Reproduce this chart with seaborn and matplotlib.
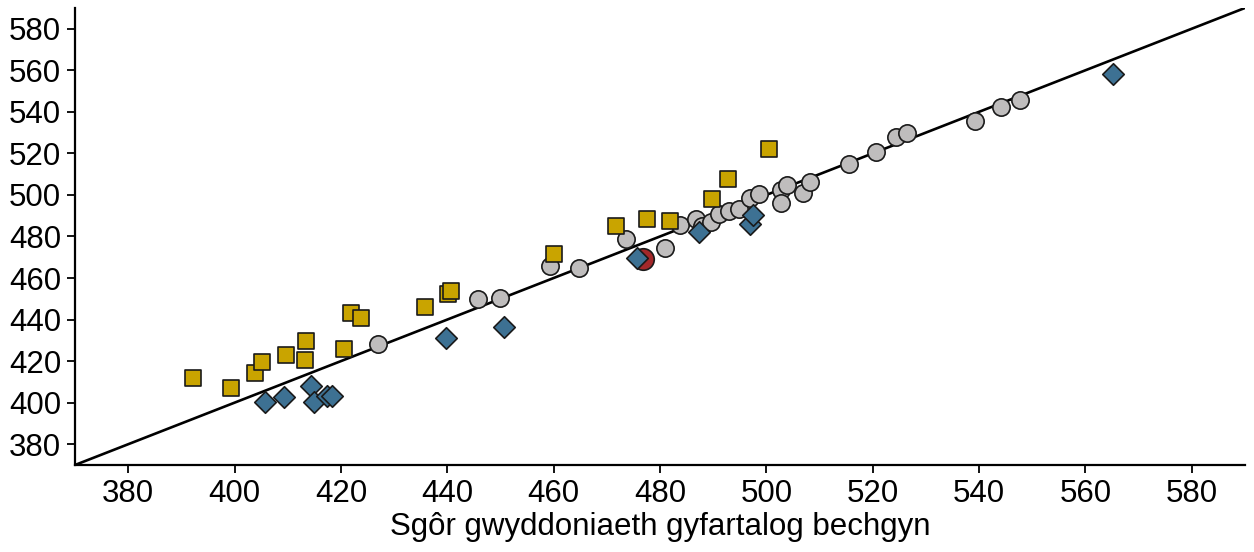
import matplotlib
matplotlib.use("Agg")
import matplotlib.pyplot as plt
import seaborn as sns
import pandas as pd

# boys' average (x) vs girls' average (y)
grey_x = [427.0, 445.8, 450.0, 459.3, 464.7, 473.6, 481.0, 483.7, 486.7, 487.9,
          489.6, 491.1, 493.0, 494.8, 497.0, 498.6, 502.8, 503.9, 502.8, 506.8,
          508.3, 515.5, 520.6, 524.3, 526.4, 539.2, 544.2, 547.7]
grey_y = [428.2, 449.7, 450.5, 465.9, 465.0, 478.6, 474.4, 485.5, 488.4, 484.9,
          487.2, 491.0, 492.4, 493.3, 498.6, 500.5, 502.6, 505.0, 496.0, 501.0,
          506.0, 514.9, 520.5, 527.8, 529.8, 535.8, 542.2, 545.8]

yellow_x = [392.1, 399.4, 403.9, 405.1, 409.7, 413.3, 413.5, 420.6, 421.9, 423.8,
            435.9, 440.2, 440.7, 460.1, 471.8, 477.6, 481.8, 489.7, 492.8, 500.5]
yellow_y = [411.8, 406.9, 414.2, 419.6, 422.9, 420.6, 429.5, 425.8, 443.1, 440.7,
            446.0, 452.1, 453.8, 471.6, 485.1, 488.4, 487.5, 498.0, 507.8, 522.2]

blue_x = [405.7, 409.3, 414.4, 415.0, 417.3, 418.4, 439.8, 450.6, 475.6, 487.4,
          497.0, 497.5, 565.1]
blue_y = [400.2, 402.8, 407.9, 400.2, 403.1, 403.2, 431.1, 436.3, 469.6, 482.1,
          485.8, 490.4, 558.3]

red_x = [476.9]
red_y = [469.2]

x_ticks = list(range(380, 581, 20))
y_ticks = list(range(380, 581, 20))
lims = (370, 590)

sns.set_style("ticks")
plt.rcParams["font.family"] = ["Liberation Sans", "DejaVu Sans"]

fig = plt.figure(figsize=(12.54, 5.52), dpi=100)
ax = fig.add_axes([0.0598, 0.1576, 0.933, 0.828])

ax.axline((lims[0], lims[0]), slope=1, color="black", lw=1.9, zorder=1)

edge = "#1a1a1a"
sns.scatterplot(x=grey_x, y=grey_y, ax=ax, marker="o", s=155, color="#bfbdbd",
                edgecolor=edge, linewidth=1.2, zorder=2)
sns.scatterplot(x=yellow_x, y=yellow_y, ax=ax, marker="s", s=130, color="#c9a400",
                edgecolor=edge, linewidth=1.2, zorder=3)
sns.scatterplot(x=red_x, y=red_y, ax=ax, marker="o", s=240, color="#a3282a",
                edgecolor=edge, linewidth=1.2, zorder=4)
sns.scatterplot(x=blue_x, y=blue_y, ax=ax, marker="D", s=120, color="#3d7193",
                edgecolor=edge, linewidth=1.2, zorder=5)

ax.set_xlim(*lims)
ax.set_ylim(*lims)
ax.set_xticks(x_ticks)
ax.set_yticks(y_ticks)
ax.tick_params(labelsize=22.5, length=6, width=1.3, colors="black", pad=4)
ax.set_xlabel("Sgôr gwyddoniaeth gyfartalog bechgyn", fontsize=22.5, color="black",
              labelpad=2)
ax.set_ylabel("")
for side in ["left", "bottom"]:
    ax.spines[side].set_linewidth(1.6)
    ax.spines[side].set_color("black")
sns.despine(ax=ax)

fig.savefig("out.png", dpi=100)
